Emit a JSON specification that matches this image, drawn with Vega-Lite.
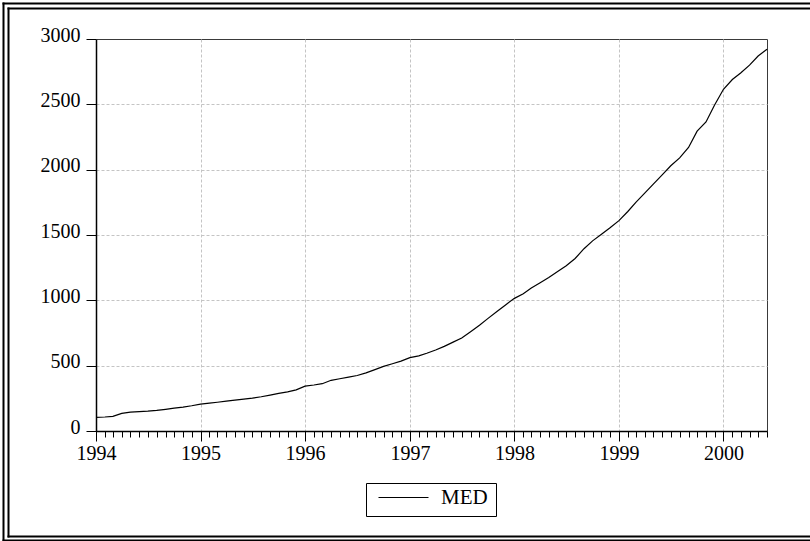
{
  "$schema": "https://vega.github.io/schema/vega-lite/v6.json",
  "width": 671,
  "height": 392,
  "autosize": {"type": "none"},
  "padding": {"left": 96, "top": 39, "right": 43, "bottom": 110},
  "background": "white",
  "config": {"view": {"stroke": "#3a3a3a", "strokeWidth": 1}},
  "data": {"values": [
    {"date": "1994-01-01", "value": 105, "series": "MED"},
    {"date": "1994-02-01", "value": 107, "series": "MED"},
    {"date": "1994-03-01", "value": 112, "series": "MED"},
    {"date": "1994-04-01", "value": 135, "series": "MED"},
    {"date": "1994-05-01", "value": 145, "series": "MED"},
    {"date": "1994-06-01", "value": 148, "series": "MED"},
    {"date": "1994-07-01", "value": 152, "series": "MED"},
    {"date": "1994-08-01", "value": 158, "series": "MED"},
    {"date": "1994-09-01", "value": 166, "series": "MED"},
    {"date": "1994-10-01", "value": 175, "series": "MED"},
    {"date": "1994-11-01", "value": 183, "series": "MED"},
    {"date": "1994-12-01", "value": 193, "series": "MED"},
    {"date": "1995-01-01", "value": 205, "series": "MED"},
    {"date": "1995-02-01", "value": 213, "series": "MED"},
    {"date": "1995-03-01", "value": 220, "series": "MED"},
    {"date": "1995-04-01", "value": 228, "series": "MED"},
    {"date": "1995-05-01", "value": 236, "series": "MED"},
    {"date": "1995-06-01", "value": 244, "series": "MED"},
    {"date": "1995-07-01", "value": 252, "series": "MED"},
    {"date": "1995-08-01", "value": 262, "series": "MED"},
    {"date": "1995-09-01", "value": 275, "series": "MED"},
    {"date": "1995-10-01", "value": 288, "series": "MED"},
    {"date": "1995-11-01", "value": 300, "series": "MED"},
    {"date": "1995-12-01", "value": 315, "series": "MED"},
    {"date": "1996-01-01", "value": 343, "series": "MED"},
    {"date": "1996-02-01", "value": 352, "series": "MED"},
    {"date": "1996-03-01", "value": 362, "series": "MED"},
    {"date": "1996-04-01", "value": 388, "series": "MED"},
    {"date": "1996-05-01", "value": 400, "series": "MED"},
    {"date": "1996-06-01", "value": 412, "series": "MED"},
    {"date": "1996-07-01", "value": 425, "series": "MED"},
    {"date": "1996-08-01", "value": 445, "series": "MED"},
    {"date": "1996-09-01", "value": 470, "series": "MED"},
    {"date": "1996-10-01", "value": 495, "series": "MED"},
    {"date": "1996-11-01", "value": 515, "series": "MED"},
    {"date": "1996-12-01", "value": 535, "series": "MED"},
    {"date": "1997-01-01", "value": 561, "series": "MED"},
    {"date": "1997-02-01", "value": 575, "series": "MED"},
    {"date": "1997-03-01", "value": 595, "series": "MED"},
    {"date": "1997-04-01", "value": 620, "series": "MED"},
    {"date": "1997-05-01", "value": 648, "series": "MED"},
    {"date": "1997-06-01", "value": 680, "series": "MED"},
    {"date": "1997-07-01", "value": 712, "series": "MED"},
    {"date": "1997-08-01", "value": 760, "series": "MED"},
    {"date": "1997-09-01", "value": 810, "series": "MED"},
    {"date": "1997-10-01", "value": 862, "series": "MED"},
    {"date": "1997-11-01", "value": 915, "series": "MED"},
    {"date": "1997-12-01", "value": 965, "series": "MED"},
    {"date": "1998-01-01", "value": 1015, "series": "MED"},
    {"date": "1998-02-01", "value": 1050, "series": "MED"},
    {"date": "1998-03-01", "value": 1095, "series": "MED"},
    {"date": "1998-04-01", "value": 1135, "series": "MED"},
    {"date": "1998-05-01", "value": 1175, "series": "MED"},
    {"date": "1998-06-01", "value": 1220, "series": "MED"},
    {"date": "1998-07-01", "value": 1265, "series": "MED"},
    {"date": "1998-08-01", "value": 1320, "series": "MED"},
    {"date": "1998-09-01", "value": 1395, "series": "MED"},
    {"date": "1998-10-01", "value": 1455, "series": "MED"},
    {"date": "1998-11-01", "value": 1505, "series": "MED"},
    {"date": "1998-12-01", "value": 1555, "series": "MED"},
    {"date": "1999-01-01", "value": 1610, "series": "MED"},
    {"date": "1999-02-01", "value": 1680, "series": "MED"},
    {"date": "1999-03-01", "value": 1750, "series": "MED"},
    {"date": "1999-04-01", "value": 1820, "series": "MED"},
    {"date": "1999-05-01", "value": 1890, "series": "MED"},
    {"date": "1999-06-01", "value": 1960, "series": "MED"},
    {"date": "1999-07-01", "value": 2030, "series": "MED"},
    {"date": "1999-08-01", "value": 2090, "series": "MED"},
    {"date": "1999-09-01", "value": 2170, "series": "MED"},
    {"date": "1999-10-01", "value": 2295, "series": "MED"},
    {"date": "1999-11-01", "value": 2365, "series": "MED"},
    {"date": "1999-12-01", "value": 2495, "series": "MED"},
    {"date": "2000-01-01", "value": 2615, "series": "MED"},
    {"date": "2000-02-01", "value": 2690, "series": "MED"},
    {"date": "2000-03-01", "value": 2740, "series": "MED"},
    {"date": "2000-04-01", "value": 2800, "series": "MED"},
    {"date": "2000-05-01", "value": 2870, "series": "MED"},
    {"date": "2000-06-01", "value": 2921, "series": "MED"}
  ]},
  "resolve": {
    "scale": {"x": "independent", "y": "independent"},
    "axis": {"x": "independent", "y": "independent"}
  },
  "layer": [
    {
      "mark": {"type": "line", "strokeWidth": 1.2},
      "encoding": {
        "x": {
          "field": "date", "type": "temporal",
          "scale": {"type": "utc", "domain": [{"year": 1994, "month": 1, "date": 1, "utc": true}, {"year": 2000, "month": 6, "date": 1, "utc": true}]},
          "axis": {
            "orient": "bottom", "title": null, "format": "%Y",
            "values": [
              {"year": 1994, "month": 1, "date": 1, "utc": true},
              {"year": 1995, "month": 1, "date": 1, "utc": true},
              {"year": 1996, "month": 1, "date": 1, "utc": true},
              {"year": 1997, "month": 1, "date": 1, "utc": true},
              {"year": 1998, "month": 1, "date": 1, "utc": true},
              {"year": 1999, "month": 1, "date": 1, "utc": true},
              {"year": 2000, "month": 1, "date": 1, "utc": true}
            ],
            "labelFont": "Liberation Serif", "labelFontSize": 20, "labelColor": "black",
            "labelPadding": 2, "labelFlush": false, "labelOverlap": false,
            "tickSize": 10, "tickColor": "black", "tickWidth": 1,
            "domainColor": "black", "domainWidth": 1.5,
            "grid": true, "gridColor": "#c4c4c4", "gridDash": [3, 2], "gridWidth": 1
          }
        },
        "y": {
          "field": "value", "type": "quantitative",
          "scale": {"domain": [0, 3000], "nice": false, "zero": false},
          "axis": {
            "orient": "left", "title": null, "format": "d",
            "values": [0, 500, 1000, 1500, 2000, 2500, 3000],
            "labelFont": "Liberation Serif", "labelFontSize": 20, "labelColor": "black",
            "labelPadding": 6, "labelBaseline": "alphabetic", "labelOffset": 2,
            "labelFlush": false, "labelOverlap": false,
            "tickSize": 10, "tickColor": "black", "tickWidth": 1,
            "domainColor": "black", "domainWidth": 1.5,
            "grid": false
          }
        },
        "color": {
          "field": "series", "type": "nominal",
          "scale": {"range": ["black"]},
          "legend": {
            "orient": "none", "legendX": 270, "legendY": 444,
            "title": null, "direction": "horizontal",
            "strokeColor": "black", "fillColor": "white", "padding": 8,
            "symbolType": "stroke", "symbolSize": 2500, "symbolStrokeWidth": 1, "symbolOffset": 4,
            "labelFont": "Liberation Serif", "labelFontSize": 21, "labelColor": "black",
            "labelOffset": 12, "clipHeight": 13
          }
        }
      }
    },
    {
      "mark": {"type": "line", "strokeOpacity": 0},
      "encoding": {
        "x": {
          "field": "date", "type": "temporal",
          "scale": {"type": "utc", "domain": [{"year": 1994, "month": 1, "date": 1, "utc": true}, {"year": 2000, "month": 6, "date": 1, "utc": true}]},
          "axis": {
            "orient": "bottom", "title": null,
            "tickCount": {"interval": "month", "step": 1},
            "labels": false, "domain": false, "grid": false,
            "tickSize": 6, "tickColor": "black", "tickWidth": 1
          }
        },
        "y": {
          "field": "value", "type": "quantitative",
          "scale": {"domain": [0, 3000], "nice": false, "zero": false},
          "axis": {
            "orient": "left", "title": null, "values": [500, 1000, 1500, 2000, 2500],
            "labels": false, "ticks": false, "domain": false,
            "grid": true, "gridColor": "#c4c4c4", "gridDash": [3, 2], "gridWidth": 1
          }
        }
      }
    },
    {
      "mark": {"type": "point", "opacity": 0},
      "encoding": {
        "x": {
          "field": "value", "type": "quantitative",
          "scale": {"domain": [0, 1], "range": [-93, 719], "nice": false, "zero": false},
          "axis": {"orient": "top", "title": null, "values": [0, 1], "labels": false, "ticks": false, "domain": false,
                   "grid": true, "gridColor": "black", "gridWidth": 2, "gridDash": [], "gridCap": "square"}
        },
        "y": {
          "field": "value", "type": "quantitative",
          "scale": {"domain": [0, 1], "range": [501, -36], "nice": false, "zero": false},
          "axis": {"orient": "left", "title": null, "values": [0, 1], "labels": false, "ticks": false, "domain": false,
                   "grid": true, "gridColor": "black", "gridWidth": 2, "gridDash": [], "gridCap": "square"}
        }
      }
    },
    {
      "mark": {"type": "point", "opacity": 0},
      "encoding": {
        "x": {
          "field": "value", "type": "quantitative",
          "scale": {"domain": [0, 1], "range": [-88, 716], "nice": false, "zero": false},
          "axis": {"orient": "top", "title": null, "values": [0, 1], "labels": false, "ticks": false, "domain": false,
                   "grid": true, "gridColor": "black", "gridWidth": 2, "gridDash": [], "gridCap": "square"}
        },
        "y": {
          "field": "value", "type": "quantitative",
          "scale": {"domain": [0, 1], "range": [497, -31], "nice": false, "zero": false},
          "axis": {"orient": "left", "title": null, "values": [0, 1], "labels": false, "ticks": false, "domain": false,
                   "grid": true, "gridColor": "black", "gridWidth": 2, "gridDash": [], "gridCap": "square"}
        }
      }
    }
  ]
}
